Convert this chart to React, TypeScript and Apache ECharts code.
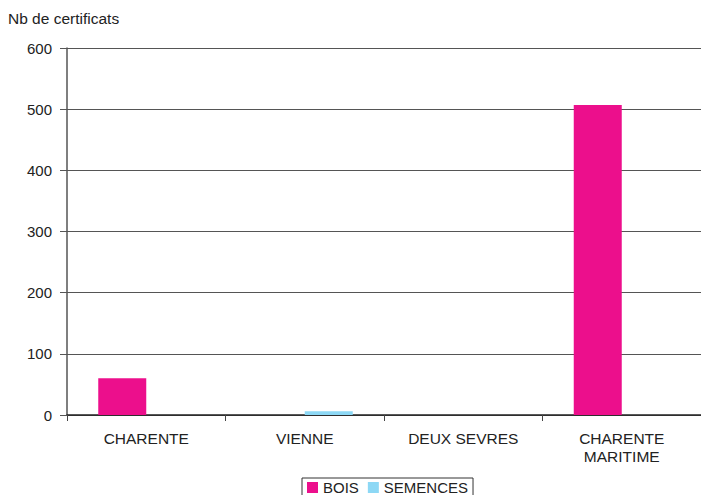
import React, { useEffect, useRef } from "react";
import * as echarts from "echarts";

const categories = ["CHARENTE", "VIENNE", "DEUX SEVRES", "CHARENTE\nMARITIME"];
const bois = [60, 0, 0, 507];
const semences = [0, 6, 0, 0];
const yTicks = { min: 0, max: 600, interval: 100 };
const yTitle = "Nb de certificats";

export default function App() {
  const ref = useRef<HTMLDivElement>(null);
  useEffect(() => {
    const chart = echarts.init(ref.current!, undefined, { renderer: "svg" });
    const font = "Liberation Sans, Arial, sans-serif";
    chart.setOption({
      animation: false,
      textStyle: { fontFamily: font },
      grid: { left: 67, right: -8, top: 48, bottom: 80, containLabel: false },
      graphic: [
        {
          type: "text",
          left: 8,
          top: 10,
          style: { text: yTitle, fontSize: 15.5, fill: "#222", fontFamily: font },
        },
      ],
      legend: {
        top: 478,
        left: 302,
        itemWidth: 11,
        itemHeight: 11,
        itemGap: 9,
        icon: "rect",
        borderColor: "#333",
        borderWidth: 1,
        borderRadius: 0,
        padding: [2, 5, 6, 5],
        textStyle: { fontSize: 15, color: "#222", fontFamily: font },
        data: ["BOIS", "SEMENCES"],
      },
      xAxis: {
        type: "category",
        data: categories,
        axisLine: { lineStyle: { color: "#222", width: 1.5 } },
        axisTick: { show: true, alignWithLabel: false, length: 6, lineStyle: { color: "#444" } },
        axisLabel: { color: "#222", fontSize: 15.5, margin: 14, lineHeight: 18, fontFamily: font },
      },
      yAxis: {
        type: "value",
        min: yTicks.min,
        max: yTicks.max,
        interval: yTicks.interval,
        axisLine: { show: true, lineStyle: { color: "#555", width: 1.5 } },
        axisTick: { show: true, length: 7, lineStyle: { color: "#555" } },
        axisLabel: { color: "#222", fontSize: 15, margin: 15, fontFamily: font },
        splitLine: { show: true, lineStyle: { color: "#555", width: 1.2 } },
      },
      series: [
        {
          name: "BOIS",
          type: "bar",
          data: bois,
          barWidth: 48,
          barGap: "0%",
          itemStyle: { color: "#EC0F8C" },
        },
        {
          name: "SEMENCES",
          type: "bar",
          data: semences,
          barWidth: 48,
          barGap: "0%",
          itemStyle: { color: "#8DD8F5" },
        },
      ],
    });
    return () => chart.dispose();
  }, []);
  return <div ref={ref} style={{ width: 701, height: 495, position: "absolute", left: 0, top: 0 }} />;
}
